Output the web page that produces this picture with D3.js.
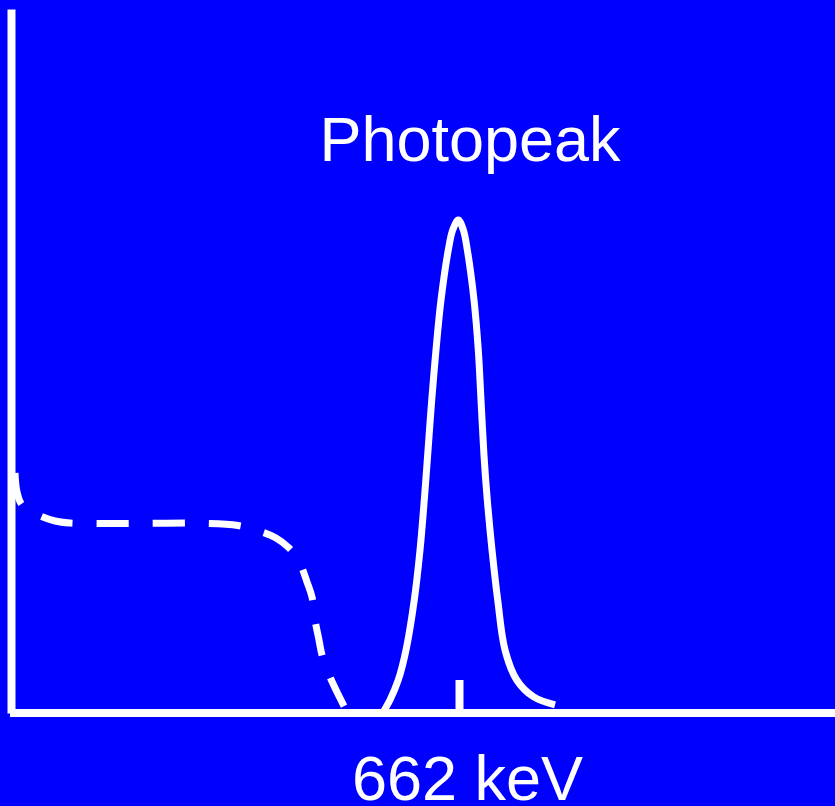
<!DOCTYPE html>
<html>
<head>
<meta charset="utf-8">
<script src="https://cdn.jsdelivr.net/npm/d3@7"></script>
<style>
  html, body { margin: 0; padding: 0; background: #0000ff; }
  svg { display: block; }
</style>
</head>
<body>
<svg id="chart" width="835" height="806"></svg>
<script>
// ---- data (energy in keV, counts in arbitrary units) ----
const peakEnergy = [547.8, 560.0, 572.3, 583.7, 595.9, 604.4, 610.7, 615.7, 621.7, 628.0, 635.4, 646.2, 652.7, 661.0,
                    668.4, 674.3, 684.2, 690.5, 694.5, 698.9, 703.8, 710.8, 719.2, 730.0, 747.3, 771.8, 803.9];
const peakCounts = [-0.2, 1.85, 4.69, 8.95, 16.05, 23.15, 30.26, 36.65, 44.46, 51.56, 58.66, 65.77, 68.61, 70.03,
                    68.61, 65.77, 58.66, 51.56, 44.46, 36.65, 30.26, 23.15, 16.05, 8.95, 4.69, 2.32, 1.14];

const comptonEnergy = [5.9, 8.9, 16.3, 39.9, 65.0, 87.2, 131.5, 205.4, 279.3, 335.4, 370.9, 391.6, 409.3, 421.1,
                       430.0, 437.4, 444.8, 449.2, 455.1, 459.6, 471.4, 481.7, 492.1];
const comptonCounts = [34.09, 31.39, 29.55, 28.13, 27.27, 26.99, 26.92, 26.95, 26.95, 26.63, 25.71, 24.86, 23.58, 22.30,
                       20.60, 18.61, 16.48, 13.21, 10.37, 8.24, 5.11, 2.98, 0.99];

const tickValues = [662];
const tickLabels = ["662 keV"];
const peakLabel = "Photopeak";

// ---- chart ----
const svg = d3.select("#chart");
const W = 835, H = 806;
svg.append("rect").attr("width", W).attr("height", H).attr("fill", "#0000ff");

const x = d3.scaleLinear().domain([0, 1217.6]).range([11, 835]);
const y = d3.scaleLinear().domain([0, 100]).range([713, 9]);

const line = d3.line()
  .x(d => x(d[0]))
  .y(d => y(d[1]))
  .curve(d3.curveCatmullRom.alpha(0.5));

const compton = comptonEnergy.map((e, i) => [e, comptonCounts[i]]);
const peak = peakEnergy.map((e, i) => [e, peakCounts[i]]);

svg.append("path")
  .datum(compton)
  .attr("d", line)
  .attr("fill", "none")
  .attr("stroke", "#fff")
  .attr("stroke-width", 7)
  .attr("stroke-dasharray", "32,24")
  .attr("stroke-linecap", "butt");

svg.append("path")
  .datum(peak)
  .attr("d", line)
  .attr("fill", "none")
  .attr("stroke", "#fff")
  .attr("stroke-width", 7)
  .attr("stroke-linejoin", "round")
  .attr("stroke-linecap", "butt");

// y axis (no ticks)
const yAxis = svg.append("g")
  .attr("transform", `translate(${x(0)},0)`)
  .call(d3.axisLeft(y).tickValues([]).tickSizeOuter(0));
yAxis.select(".domain").attr("stroke", "#fff").attr("stroke-width", 8);

// x axis with inward tick at 662 keV
const xAxis = svg.append("g")
  .attr("transform", `translate(0,${y(0)})`)
  .call(d3.axisBottom(x)
    .tickValues(tickValues)
    .tickFormat((d, i) => tickLabels[i])
    .tickSizeInner(-33)
    .tickSizeOuter(0)
    .tickPadding(42));
xAxis.select(".domain").attr("stroke", "#fff").attr("stroke-width", 8)
  .attr("d", `M${x(0) - 1},0H835`);
xAxis.selectAll(".tick line").attr("stroke", "#fff").attr("stroke-width", 8);
xAxis.selectAll(".tick text")
  .attr("fill", "#fff")
  .attr("font-family", "'Liberation Sans', Arial, sans-serif")
  .attr("font-size", 63)
  .attr("dx", 8);

svg.append("text")
  .attr("x", x(662) + 11)
  .attr("y", 161)
  .attr("text-anchor", "middle")
  .attr("fill", "#fff")
  .attr("font-family", "'Liberation Sans', Arial, sans-serif")
  .attr("font-size", 63)
  .text(peakLabel);
</script>
</body>
</html>
